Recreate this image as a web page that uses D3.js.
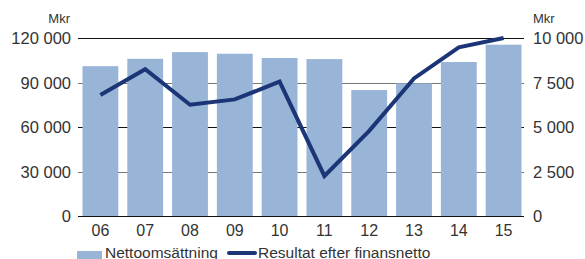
<!DOCTYPE html>
<html>
<head>
<meta charset="utf-8">
<script src="https://cdn.jsdelivr.net/npm/d3@7"></script>
<style>
  body { margin: 0; background: #fff; }
  text { font-family: "Liberation Sans", Arial, sans-serif; fill: #333; }
</style>
</head>
<body>
<div id="chart"></div>
<script>
var years = ["06", "07", "08", "09", "10", "11", "12", "13", "14", "15"];
var nettoomsattning = [101000, 106000, 110500, 109400, 106500, 105800, 84900, 89400, 103800, 115500];
var resultat = [6800, 8250, 6250, 6550, 7550, 2250, 4780, 7730, 9480, 10000];
var leftTicks = [0, 30000, 60000, 90000, 120000];
var rightTicks = [0, 2500, 5000, 7500, 10000];

var size = { width: 585, height: 259 };
var plot = { left: 78, right: 524, top: 38, bottom: 216 };

var fmt = (v) => d3.format(",")(v).replace(/,/g, " ");

var svg = d3.select("#chart")
  .append("svg")
  .attr("width", size.width)
  .attr("height", size.height);

var x = d3.scaleBand()
  .domain(years)
  .range([plot.left, plot.right + 2])
  .paddingInner(0.2)
  .paddingOuter(0.1);

var yLeft = d3.scaleLinear().domain([0, 120000]).range([plot.bottom, plot.top]);
var yRight = d3.scaleLinear().domain([0, 10000]).range([plot.bottom, plot.top]);

/* Bars */
svg.selectAll("rect.bar")
  .data(nettoomsattning)
  .enter()
  .append("rect")
  .attr("class", "bar")
  .attr("x", (d, i) => x(years[i]))
  .attr("y", (d) => yLeft(d))
  .attr("width", x.bandwidth())
  .attr("height", (d) => plot.bottom - yLeft(d))
  .style("fill", "#98b5d8");

/* Grid lines, drawn over bars in gaps only where visible */
svg.selectAll("line.grid")
  .data(leftTicks)
  .enter()
  .append("line")
  .attr("class", "grid")
  .attr("x1", plot.left)
  .attr("x2", plot.right)
  .attr("y1", (d) => Math.round(yLeft(d)) + 0.5)
  .attr("y2", (d) => Math.round(yLeft(d)) + 0.5)
  .style("stroke", (d, i) => i % 2 === 0 ? "#111" : "#777")
  .style("stroke-width", 1.2)
  .lower();

/* Line */
svg.append("path")
  .datum(resultat)
  .attr("d", d3.line()
    .x((d, i) => x(years[i]) + x.bandwidth() / 2)
    .y((d) => yRight(d)))
  .style("fill", "none")
  .style("stroke", "#1b3577")
  .style("stroke-width", 4)
  .style("stroke-linejoin", "miter");

/* Left axis labels */
svg.selectAll("text.yl")
  .data(leftTicks)
  .enter()
  .append("text")
  .attr("class", "yl")
  .attr("x", 71)
  .attr("y", (d) => yLeft(d) + 6)
  .attr("text-anchor", "end")
  .style("font-size", "16.5px")
  .text((d) => fmt(d));

/* Right axis labels */
svg.selectAll("text.yr")
  .data(rightTicks)
  .enter()
  .append("text")
  .attr("class", "yr")
  .attr("x", 533)
  .attr("y", (d) => yRight(d) + 6)
  .style("font-size", "16.5px")
  .text((d) => fmt(d));

/* x labels */
svg.selectAll("text.xl")
  .data(years)
  .enter()
  .append("text")
  .attr("class", "xl")
  .attr("x", (d) => x(d) + x.bandwidth() / 2)
  .attr("y", 236)
  .attr("text-anchor", "middle")
  .style("font-size", "16px")
  .text((d) => d);

/* Units */
svg.append("text").attr("x", 70).attr("y", 23).attr("text-anchor", "end")
  .style("font-size", "13px").text("Mkr");
svg.append("text").attr("x", 533).attr("y", 23)
  .style("font-size", "13px").text("Mkr");

/* Legend */
var legend = svg.append("g");
legend.append("rect")
  .attr("x", 77).attr("y", 251).attr("width", 25).attr("height", 10)
  .style("fill", "#98b5d8");
legend.append("text").attr("x", 105).attr("y", 258)
  .style("font-size", "15.5px").text("Nettoomsättning");
legend.append("line")
  .attr("x1", 229).attr("x2", 255).attr("y1", 253).attr("y2", 253)
  .style("stroke", "#1b3577").style("stroke-width", 4).style("stroke-linecap", "round");
legend.append("text").attr("x", 258).attr("y", 258)
  .style("font-size", "15.5px").text("Resultat efter finansnetto");
</script>
</body>
</html>
